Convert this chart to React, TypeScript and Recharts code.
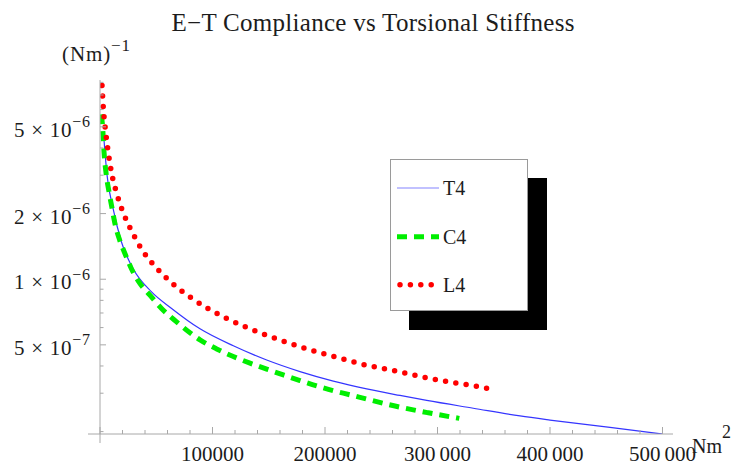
import { Legend, Line, LineChart, XAxis, YAxis, Label } from "recharts";
import type { LegendProps } from "recharts";

const SERIF = '"Liberation Serif", "Times New Roman", serif';
const AXIS_GRAY = "#a8a8a8";
const TEXT = "#1c1c1c";
const serifStyle = { fontFamily: SERIF };

// torsional stiffness (Nm^2) against E-T compliance ((Nm)^-1)
const t4Stiffness = [
  3556, 6222, 11556, 18933, 29333, 45600, 63378, 88889, 118489, 148178, 177778, 207378, 237067,
  266667, 290400, 331822, 373333, 400000, 453333, 499600,
];
const t4Compliance = [
  4.35e-6, 3.01e-6, 2.12e-6, 1.49e-6, 1.12e-6, 8.77e-7, 7.36e-7, 5.92e-7, 4.95e-7, 4.26e-7, 3.77e-7,
  3.41e-7, 3.14e-7, 2.93e-7, 2.78e-7, 2.56e-7, 2.36e-7, 2.26e-7, 2.09e-7, 1.95e-7,
];

const c4Stiffness = [
  1156, 2400, 3556, 5600, 8000, 10667, 13600, 17511, 21956, 27822, 35289, 44178, 54489, 67822,
  88889, 103733, 118489, 133333, 148178, 162933, 177778, 192622, 207378, 222222, 237067, 262222,
  291822, 319378,
];
const c4Compliance = [
  5.71e-6, 4.93e-6, 3.85e-6, 3.01e-6, 2.52e-6, 2.12e-6, 1.77e-6, 1.51e-6, 1.32e-6, 1.12e-6, 9.59e-7,
  8.47e-7, 7.36e-7, 6.39e-7, 5.27e-7, 4.79e-7, 4.42e-7, 4.12e-7, 3.87e-7, 3.64e-7, 3.43e-7, 3.24e-7,
  3.08e-7, 2.95e-7, 2.82e-7, 2.62e-7, 2.44e-7, 2.3e-7,
];

const l4Stiffness = [
  1778, 2933, 4711, 7111, 10044, 14489, 20444, 28444, 37956, 50044, 63111, 78222, 93956, 110489,
  127733, 145511, 163289, 181333, 199378, 217778, 236178, 254844, 273511, 291822, 310489, 328889,
  348178,
];
const l4Compliance = [
  7.73e-6, 6.12e-6, 4.89e-6, 3.89e-6, 3.12e-6, 2.51e-6, 2.03e-6, 1.65e-6, 1.35e-6, 1.13e-6, 9.69e-7,
  8.41e-7, 7.44e-7, 6.69e-7, 6.09e-7, 5.59e-7, 5.19e-7, 4.84e-7, 4.54e-7, 4.28e-7, 4.04e-7, 3.87e-7,
  3.69e-7, 3.52e-7, 3.38e-7, 3.27e-7, 3.13e-7,
];

const xTicks = [
  0, 20000, 40000, 60000, 80000, 100000, 120000, 140000, 160000, 180000, 200000, 220000, 240000,
  260000, 280000, 300000, 320000, 340000, 360000, 380000, 400000, 420000, 440000, 460000, 480000,
  500000,
];
const xTickValues = [100000, 200000, 300000, 400000, 500000];
const xTickLabels = ["100000", "200000", "300\u2009000", "400\u2009000", "500\u2009000"];

const yTicks = [
  2e-7, 3e-7, 4e-7, 5e-7, 6e-7, 7e-7, 8e-7, 9e-7, 1e-6, 2e-6, 3e-6, 4e-6, 5e-6, 6e-6, 7e-6, 8e-6,
];
const yLabelled = [5e-7, 1e-6, 2e-6, 5e-6];

const zip = (s: number[], c: number[]) => s.map((v, i) => ({ stiffness: v, compliance: c[i] }));

const SERIES = [
  { name: "T4", data: zip(t4Stiffness, t4Compliance), color: "#3535ff", width: 1.2, dash: undefined, cap: "butt" },
  { name: "C4", data: zip(c4Stiffness, c4Compliance), color: "#00ee00", width: 5, dash: "10 7", cap: "butt" },
  { name: "L4", data: zip(l4Stiffness, l4Compliance), color: "#ff0000", width: 5.5, dash: "0 10.4", cap: "round" },
] as const;

function XTick({ x, y, payload }: any) {
  const v = payload.value as number;
  const idx = xTickValues.indexOf(v);
  const major = v % 100000 === 0;
  return (
    <g>
      <line x1={x} x2={x} y1={y} y2={y - (major ? 7 : 4)} stroke={AXIS_GRAY} />
      {v === 0 ? (
        <>
          <line x1={x - 12} x2={x} y1={y} y2={y} stroke={AXIS_GRAY} />
          <line x1={x} x2={x} y1={y} y2={y + 9} stroke={AXIS_GRAY} />
        </>
      ) : null}
      {idx >= 0 ? (
        <text x={x} y={y + 27} textAnchor="middle" style={serifStyle} fontSize={21} fill={TEXT}>
          {xTickLabels[idx]}
        </text>
      ) : null}
    </g>
  );
}

function YTick({ x, y, payload }: any) {
  const v = payload.value as number;
  const major = yLabelled.includes(v);
  const exp = Math.floor(Math.log10(v) + 1e-9);
  const mant = Math.round(v / Math.pow(10, exp));
  return (
    <g>
      <line x1={x} x2={x + (major ? 6 : 3.5)} y1={y} y2={y} stroke={AXIS_GRAY} />
      {major ? (
        <text
          x={x - 10}
          y={y + 10}
          textAnchor="end"
          style={serifStyle}
          fontSize={21}
          fill={TEXT}
          textLength={76}
          lengthAdjust="spacing"
        >
          <tspan>{`${mant} \u00d7 10`}</tspan>
          <tspan dy={-9.5} fontSize={16}>{`\u2212${-exp}`}</tspan>
        </text>
      ) : null}
    </g>
  );
}

function YUnit() {
  return (
    <text x={62} y={61} style={serifStyle} fontSize={21} fill={TEXT} textLength={68} lengthAdjust="spacing">
      <tspan>(Nm)</tspan>
      <tspan dy={-10} fontSize={17}>{"\u22121"}</tspan>
    </text>
  );
}

function XUnit() {
  return (
    <text x={692} y={453} style={serifStyle} fontSize={20} fill={TEXT}>
      <tspan>Nm</tspan>
      <tspan dy={-15} fontSize={18}>2</tspan>
    </text>
  );
}

function ShadowLegend(_props: LegendProps) {
  const rows = [28, 76.7, 124.7];
  return (
    <div
      style={{
        width: 136,
        height: 150,
        background: "#fff",
        border: "1px solid #9a9a9a",
        boxShadow: "19px 19px 0 #000",
      }}
    >
      <svg width={136} height={150} style={{ display: "block" }}>
        {SERIES.map((s, i) => (
          <g key={s.name}>
            <line
              x1={s.cap === "round" ? 9 : 6}
              x2={s.cap === "round" ? 46 : 48}
              y1={rows[i]}
              y2={rows[i]}
              stroke={s.color}
              strokeWidth={s.width}
              strokeDasharray={s.dash}
              strokeLinecap={s.cap}
              opacity={s.name === "T4" ? 0.6 : 1}
            />
            <text x={52} y={rows[i] + 7} style={serifStyle} fontSize={20} fill={TEXT}>
              {s.name}
            </text>
          </g>
        ))}
      </svg>
    </div>
  );
}

export default function App() {
  return (
    <div style={{ position: "absolute", left: 0, top: 0, width: 735, height: 468, background: "#fff" }}>
      <LineChart width={735} height={468} margin={{ top: 80, right: 62, bottom: 0, left: 0 }}>
        <XAxis
          dataKey="stiffness"
          type="number"
          domain={[0, 509333]}
          ticks={xTicks}
          interval={0}
          tickSize={0}
          tickMargin={0}
          tickLine={false}
          height={34}
          stroke={AXIS_GRAY}
          tick={<XTick />}
          allowDataOverflow
        >
          <Label content={<XUnit />} />
        </XAxis>
        <YAxis
          type="number"
          scale="log"
          domain={[1.95e-7, 8.2e-6]}
          ticks={yTicks}
          interval={0}
          tickSize={0}
          tickMargin={0}
          tickLine={false}
          width={100}
          stroke={AXIS_GRAY}
          tick={<YTick />}
          allowDataOverflow
        >
          <Label content={<YUnit />} />
        </YAxis>
        <Legend
          content={<ShadowLegend />}
          layout="horizontal"
          verticalAlign="middle"
          align="center"
          wrapperStyle={{ left: 390, top: 159, width: 138, height: 152 }}
        />
        {SERIES.map((s) => (
          <Line
            key={s.name}
            name={s.name}
            data={s.data}
            dataKey="compliance"
            type="monotone"
            stroke={s.color}
            strokeWidth={s.width}
            strokeDasharray={s.dash}
            strokeLinecap={s.cap}
            dot={false}
            activeDot={false}
            isAnimationActive={false}
          />
        ))}
      </LineChart>
      <svg width={735} height={40} style={{ position: "absolute", left: 0, top: 0, pointerEvents: "none" }}>
        <text x={373} y={30.5} textAnchor="middle" style={serifStyle} fontSize={25} fill={TEXT} textLength={403}>
          {"E\u2212T Compliance vs Torsional Stiffness"}
        </text>
      </svg>
    </div>
  );
}
